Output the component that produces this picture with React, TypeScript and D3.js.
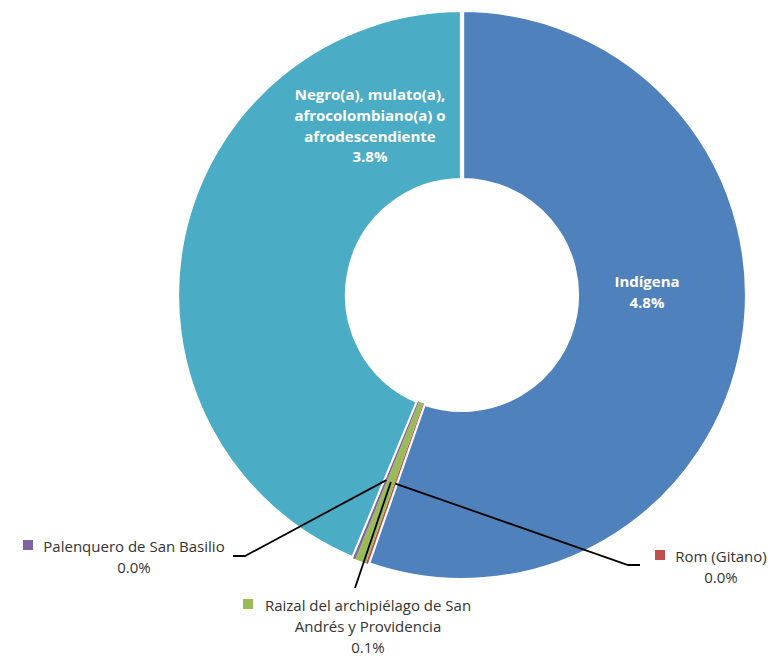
import React from "react";
import * as d3 from "d3";

const categories = [
  "Indígena",
  "Rom (Gitano)",
  "Raizal del archipiélago de San Andrés y Providencia",
  "Palenquero de San Basilio",
  "Negro(a), mulato(a), afrocolombiano(a) o afrodescendiente",
];
const values = [4.82, 0.01, 0.055, 0.012, 3.81];
const colors = ["#4F81BD", "#C0504D", "#9BBB59", "#8064A2", "#4BACC6"];

// label line breaks (text only)
const labelLines = [
  ["Indígena"],
  ["Rom (Gitano)"],
  ["Raizal del archipiélago de San", "Andrés y Providencia"],
  ["Palenquero de San Basilio"],
  ["Negro(a), mulato(a),", "afrocolombiano(a) o", "afrodescendiente"],
];

const W = 770;
const H = 656;
const cx = 462;
const cy = 295;
const outerR = 285;
const innerR = 115;
const FONT = "'Open Sans', 'Noto Sans', sans-serif";
const fmt = d3.format(".1%");
const SMALL = 0.5; // slices below this value are drawn without a border

const inside: Record<number, { x: number; y: number }> = {
  0: { x: 647, y: 287 },
  4: { x: 370, y: 100 },
};
const outside: Record<number, { x: number; y: number; key: [number, number]; end: [number, number][] }> = {
  1: { x: 721, y: 562, key: [655, 550], end: [[628, 565], [640, 565]] },
  2: { x: 368, y: 611, key: [243, 599], end: [[355, 588]] },
  3: { x: 134, y: 552, key: [23, 540], end: [[245, 556], [233, 556]] },
};

export default function App() {
  const pie = d3.pie<number>().sort(null).value((d) => d).startAngle(0).endAngle(2 * Math.PI);
  const arcs = pie(values);
  const arc = d3.arc<d3.PieArcDatum<number>>().innerRadius(innerR).outerRadius(outerR);
  const lineH = 20.8;
  const big = arcs.map((a, i) => ({ a, i })).filter((d) => values[d.i] >= SMALL);
  const small = arcs.map((a, i) => ({ a, i })).filter((d) => values[d.i] < SMALL);

  return (
    <svg width={W} height={H} style={{ display: "block", position: "absolute", left: 0, top: 0 }}>
      <rect width={W} height={H} fill="#fff" />
      <g transform={`translate(${cx},${cy})`}>
        {big.map(({ a, i }) => (
          <path key={i} d={arc(a) || ""} fill={colors[i]} stroke="#fff" strokeWidth={4.2} strokeLinejoin="miter" />
        ))}
        {small.map(({ a, i }) => (
          <path key={i} d={arc(a) || ""} fill={colors[i]} />
        ))}
      </g>
      {/* leader lines */}
      {arcs.map((a, i) => {
        const o = outside[i];
        if (!o) return null;
        const [x0, y0] = arc.centroid(a);
        const pts: [number, number][] = [[x0 + cx, y0 + cy], ...o.end];
        return <path key={"l" + i} d={d3.line()(pts) || ""} fill="none" stroke="#000" strokeWidth={1.8} />;
      })}
      {/* inside labels */}
      {arcs.map((a, i) => {
        const p = inside[i];
        if (!p) return null;
        const lines = [...labelLines[i], fmt(values[i] / 100)];
        return (
          <text key={"t" + i} x={p.x} y={p.y} textAnchor="middle" fill="#fff" fontFamily={FONT} fontWeight={700} fontSize={15}>
            {lines.map((s, k) => (
              <tspan key={k} x={p.x} y={p.y + k * lineH}>{s}</tspan>
            ))}
          </text>
        );
      })}
      {/* outside labels */}
      {arcs.map((a, i) => {
        const o = outside[i];
        if (!o) return null;
        const lines = [...labelLines[i], fmt(values[i] / 100)];
        return (
          <g key={"o" + i}>
            <rect x={o.key[0]} y={o.key[1]} width={10} height={10} fill={colors[i]} />
            <text x={o.x} y={o.y} textAnchor="middle" fill="#333" fontFamily={FONT} fontSize={15}>
              {lines.map((s, k) => (
                <tspan key={k} x={o.x} y={o.y + k * lineH}>{s}</tspan>
              ))}
            </text>
          </g>
        );
      })}
    </svg>
  );
}
